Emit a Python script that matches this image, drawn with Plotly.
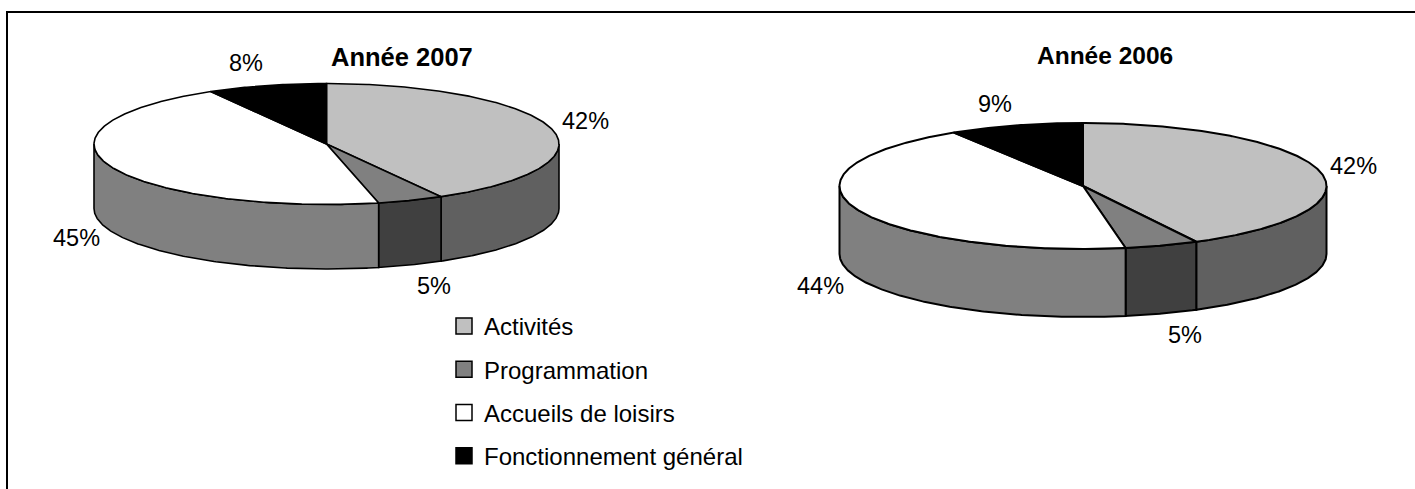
import numpy as np
import plotly.graph_objects as go

categories = ["Activités", "Programmation", "Accueils de loisirs", "Fonctionnement général"]
values_2007 = [41.8, 4.6, 45.3, 8.3]
values_2006 = [42.3, 4.9, 43.9, 8.9]

top_colors = ["#c0c0c0", "#808080", "#ffffff", "#000000"]
side_colors = ["#606060", "#404040", "#808080", "#000000"]

W, H = 1415, 489
FONT = "Liberation Sans, Arial, sans-serif"

fig = go.Figure()


def arc(cx, cy, rx, ry, a0, a1, dy=0):
    t = np.radians(np.linspace(a0, a1, max(int(abs(a1 - a0) * 2), 2)))
    return cx + rx * np.sin(t), cy - ry * np.cos(t) + dy


def draw_pie(values, cx, cy, rx, ry, depth, lw):
    cum = np.cumsum([0] + list(values)) / np.sum(values) * 360
    # front wall: only the part of each slice between 90 and 270 degrees shows
    for i in range(len(values)):
        a0, a1 = max(cum[i], 90), min(cum[i + 1], 270)
        if a1 <= a0:
            continue
        xt, yt = arc(cx, cy, rx, ry, a0, a1)
        xb, yb = arc(cx, cy, rx, ry, a1, a0, depth)
        fig.add_trace(go.Scatter(
            x=np.r_[xt, xb, xt[0]], y=np.r_[yt, yb, yt[0]], mode="lines",
            fill="toself", fillcolor=side_colors[i],
            line=dict(color="#000000", width=lw), showlegend=False, hoverinfo="skip"))
    # top face
    for i in range(len(values)):
        xt, yt = arc(cx, cy, rx, ry, cum[i], cum[i + 1])
        fig.add_trace(go.Scatter(
            x=np.r_[cx, xt, cx], y=np.r_[cy, yt, cy], mode="lines",
            fill="toself", fillcolor=top_colors[i],
            line=dict(color="#000000", width=lw), showlegend=False,
            hoverinfo="text", text=f"{categories[i]}: {round(values[i])}%"))


draw_pie(values_2007, 326.5, 144, 232.5, 60.5, 64.5, 1.6)
draw_pie(values_2006, 1083, 186, 243.5, 63, 68, 2)

# legend entries
for name, col in zip(categories, top_colors):
    fig.add_trace(go.Scatter(
        x=[None], y=[None], mode="markers", name=name, legendgroup=name,
        marker=dict(symbol="square", size=16, color=col, line=dict(color="#000000", width=1.5))))


def label(x, y, text, size=23.5, bold=False):
    fig.add_annotation(x=x, y=y, xref="x", yref="y", text=f"<b>{text}</b>" if bold else text,
                       showarrow=False, xanchor="center", yanchor="middle",
                       font=dict(family=FONT, size=size, color="#000000"))


label(402, 57, "Année 2007", 25.5, True)
label(1105, 55, "Année 2006", 24.5, True)
for v, (x, y) in zip(values_2007, [(585, 121), (434, 286), (76.5, 238), (245.5, 63)]):
    label(x, y, f"{round(v)}%")
for v, (x, y) in zip(values_2006, [(1353, 166), (1185, 335), (820, 286), (995, 104)]):
    label(x, y, f"{round(v)}%")

fig.update_layout(
    width=W, height=H, autosize=False,
    margin=dict(l=0, r=0, t=0, b=0), paper_bgcolor="#ffffff", plot_bgcolor="#ffffff",
    xaxis=dict(range=[0, W], visible=False, fixedrange=True),
    yaxis=dict(range=[H, 0], visible=False, fixedrange=True),
    legend=dict(x=444 / W, y=1 - 304 / H, xanchor="left", yanchor="top",
                font=dict(family=FONT, size=24, color="#000000"),
                bgcolor="rgba(0,0,0,0)", tracegroupgap=9, itemclick=False, itemdoubleclick=False),
    shapes=[dict(type="line", xref="x", yref="y", x0=7, x1=7, y0=11, y1=H, line=dict(color="#000000", width=2)),
            dict(type="line", xref="x", yref="y", x0=6, x1=W, y0=12, y1=12, line=dict(color="#000000", width=2))],
)
fig.write_html("out.html", config=dict(displayModeBar=False),
               post_script="document.body.style.margin='0';document.body.style.overflow='hidden';")
